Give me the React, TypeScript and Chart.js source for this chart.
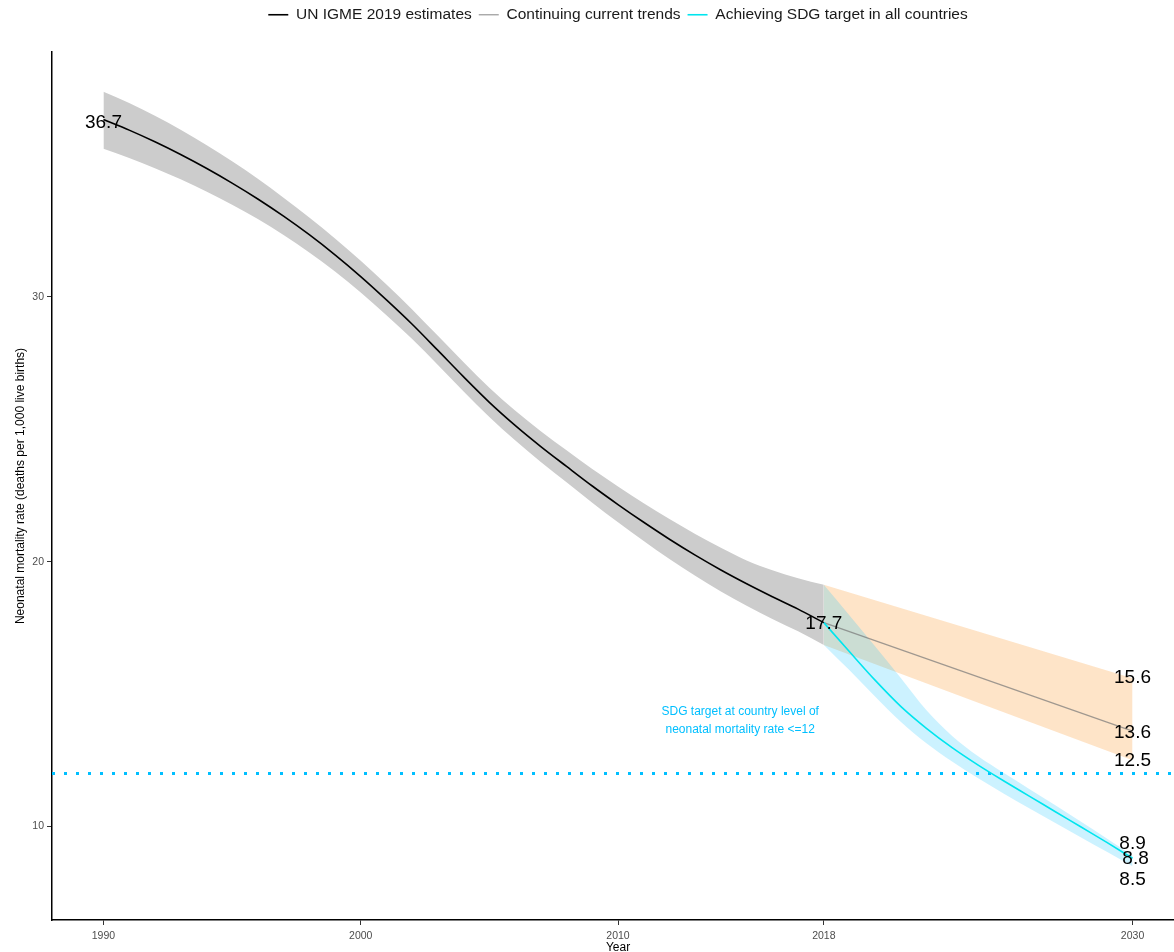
import { useEffect, useRef } from "react";
import { Chart, registerables } from "chart.js";

Chart.register(...registerables);

const FONT = '"Liberation Sans", Arial, Helvetica, sans-serif';

// UN IGME 2019 estimates of the neonatal mortality rate with uncertainty bounds
const ESTIMATE_YEARS = [
  1990, 1991, 1992, 1993, 1994, 1995, 1996, 1997, 1998, 1999, 2000, 2001, 2002, 2003, 2004,
  2005, 2006, 2007, 2008, 2009, 2010, 2011, 2012, 2013, 2014, 2015, 2016, 2017, 2018,
];
const ESTIMATE_RATE = [
  36.7, 36.3, 35.86, 35.38, 34.86, 34.3, 33.7, 33.05, 32.35, 31.59, 30.77, 29.89, 28.97, 27.98, 26.98,
  26.02, 25.15, 24.35, 23.6, 22.86, 22.16, 21.49, 20.85, 20.25, 19.69, 19.17, 18.68, 18.21, 17.7,
];
const ESTIMATE_UPPER = [
  37.75, 37.32, 36.84, 36.31, 35.74, 35.12, 34.46, 33.75, 33.0, 32.21, 31.37, 30.47, 29.53, 28.53, 27.53,
  26.57, 25.71, 24.93, 24.21, 23.5, 22.84, 22.21, 21.61, 21.05, 20.53, 20.05, 19.68, 19.38, 19.13,
];
const ESTIMATE_LOWER = [
  35.6, 35.25, 34.86, 34.44, 33.98, 33.48, 32.94, 32.34, 31.68, 30.96, 30.17, 29.31, 28.41, 27.43, 26.43,
  25.47, 24.59, 23.77, 23.0, 22.23, 21.49, 20.78, 20.1, 19.47, 18.88, 18.34, 17.84, 17.37, 16.86,
];

// Projection if current trends continue
const TREND_YEARS = [2018, 2030];
const TREND_RATE = [17.7, 13.6];
const TREND_UPPER = [19.13, 15.6];
const TREND_LOWER = [16.86, 12.5];

// Projection if the SDG target is achieved in all countries
const SDG_YEARS = [2018, 2019, 2020, 2021, 2022, 2023, 2024, 2025, 2026, 2027, 2028, 2029, 2030];
const SDG_RATE = [17.7, 16.6, 15.52, 14.53, 13.7, 12.97, 12.32, 11.72, 11.14, 10.56, 9.98, 9.4, 8.8];
const SDG_UPPER = [19.13, 17.97, 16.8, 15.6, 14.38, 13.41, 12.65, 12.02, 11.41, 10.8, 10.18, 9.55, 8.9];
const SDG_LOWER = [16.86, 15.9, 14.9, 13.95, 13.14, 12.45, 11.82, 11.24, 10.68, 10.13, 9.59, 9.05, 8.5];

const SDG_TARGET = 12;

const X_RANGE = [1988, 2032];
const Y_RANGE = [6.47, 39.25];
const X_TICKS = [1990, 2000, 2010, 2018, 2030];
const Y_TICKS = [10, 20, 30];

const SERIES_NAMES = [
  "UN IGME 2019 estimates",
  "Continuing current trends",
  "Achieving SDG target in all countries",
];
const X_TITLE = "Year";
const Y_TITLE = "Neonatal mortality rate (deaths per 1,000 live births)";
const TARGET_NOTE = ["SDG target at country level of", "neonatal mortality rate <=12"];
const TARGET_NOTE_AT = { year: 2014.75, rate: 14.0 };

const last = (a: number[]) => a[a.length - 1];
const toPoints = (xs: number[], ys: number[]) => xs.map((x, i) => ({ x, y: ys[i] }));

// Numeric labels at the start and end of each series (pixel nudges keep them apart)
const VALUE_LABELS = [
  { x: ESTIMATE_YEARS[0], y: ESTIMATE_RATE[0], dx: 0, dy: 3 },
  { x: last(ESTIMATE_YEARS), y: last(ESTIMATE_RATE), dx: 0, dy: 1 },
  { x: last(TREND_YEARS), y: last(TREND_UPPER), dx: 0, dy: 0 },
  { x: last(TREND_YEARS), y: last(TREND_RATE), dx: 0, dy: 2 },
  { x: last(TREND_YEARS), y: last(TREND_LOWER), dx: 0, dy: 0 },
  { x: last(SDG_YEARS), y: last(SDG_UPPER), dx: 0, dy: -12 },
  { x: last(SDG_YEARS), y: last(SDG_RATE), dx: 3, dy: 0 },
  { x: last(SDG_YEARS), y: last(SDG_LOWER), dx: 0, dy: 14 },
];

const COLORS = {
  estimate: "#000000",
  trend: "rgba(120,120,120,0.7)",
  sdg: "#00e5ee",
  target: "#00bfff",
  estimateBand: "#cccccc",
  trendBand: "rgba(253,185,110,0.38)",
  sdgBand: "rgba(0,191,255,0.2)",
};

const seriesLine = (label: string, xs: number[], ys: number[], color: string, width: number, order: number) => ({
  label,
  data: toPoints(xs, ys),
  borderColor: color,
  backgroundColor: color,
  borderWidth: width,
  pointBorderWidth: width,
  pointRadius: 0,
  pointStyle: "line",
  fill: false,
  cubicInterpolationMode: "monotone",
  order,
});

const bandEdge = (xs: number[], ys: number[], color: string, fillNext: boolean, order: number) => ({
  label: "",
  data: toPoints(xs, ys),
  borderColor: "transparent",
  backgroundColor: color,
  borderWidth: 0,
  pointRadius: 0,
  fill: fillNext ? "+1" : false,
  cubicInterpolationMode: "monotone",
  order,
});

// Reserve the strip above the plot for the legend row
const legendSpace = {
  id: "legendSpace",
  afterInit(chart: any) {
    const legend = chart.legend;
    if (!legend || legend.__spaced) return;
    const fit = legend.fit.bind(legend);
    legend.fit = () => {
      fit();
      legend.height = 52;
    };
    legend.__spaced = true;
  },
};

const valueLabels = {
  id: "valueLabels",
  afterDatasetsDraw(chart: any) {
    const { ctx, scales } = chart;
    ctx.save();
    ctx.font = `19px ${FONT}`;
    ctx.fillStyle = "#000";
    ctx.textAlign = "center";
    ctx.textBaseline = "middle";
    VALUE_LABELS.forEach((l) => {
      ctx.fillText(
        l.y.toFixed(1),
        scales.x.getPixelForValue(l.x) + l.dx,
        scales.y.getPixelForValue(l.y) + l.dy
      );
    });
    ctx.restore();
  },
};

const targetNote = {
  id: "targetNote",
  afterDatasetsDraw(chart: any) {
    const { ctx, scales } = chart;
    const cx = scales.x.getPixelForValue(TARGET_NOTE_AT.year);
    const cy = scales.y.getPixelForValue(TARGET_NOTE_AT.rate);
    ctx.save();
    ctx.font = `12px ${FONT}`;
    ctx.fillStyle = COLORS.target;
    ctx.textAlign = "center";
    ctx.textBaseline = "middle";
    ctx.fillText(TARGET_NOTE[0], cx, cy - 9);
    ctx.fillText(TARGET_NOTE[1], cx, cy + 9);
    ctx.restore();
  },
};

export default function App() {
  const canvasRef = useRef<HTMLCanvasElement>(null);

  useEffect(() => {
    const canvas = canvasRef.current;
    if (!canvas) return;

    const datasets: any[] = [
      seriesLine(SERIES_NAMES[0], ESTIMATE_YEARS, ESTIMATE_RATE, COLORS.estimate, 1.6, 1),
      seriesLine(SERIES_NAMES[1], TREND_YEARS, TREND_RATE, COLORS.trend, 1.3, 2),
      seriesLine(SERIES_NAMES[2], SDG_YEARS, SDG_RATE, COLORS.sdg, 1.6, 1),
      {
        label: "",
        data: toPoints(X_RANGE, [SDG_TARGET, SDG_TARGET]),
        borderColor: COLORS.target,
        borderWidth: 3,
        borderDash: [3, 9],
        borderCapStyle: "butt",
        pointRadius: 0,
        fill: false,
        order: 3,
      },
      bandEdge(SDG_YEARS, SDG_UPPER, COLORS.sdgBand, true, 10),
      bandEdge(SDG_YEARS, SDG_LOWER, COLORS.sdgBand, false, 10),
      bandEdge(TREND_YEARS, TREND_UPPER, COLORS.trendBand, true, 11),
      bandEdge(TREND_YEARS, TREND_LOWER, COLORS.trendBand, false, 11),
      bandEdge(ESTIMATE_YEARS, ESTIMATE_UPPER, COLORS.estimateBand, true, 12),
      bandEdge(ESTIMATE_YEARS, ESTIMATE_LOWER, COLORS.estimateBand, false, 12),
    ];

    const tickFont = { size: 10.5, family: FONT };
    const titleFont = { size: 12, family: FONT };

    const chart = new Chart(canvas, {
      type: "line",
      data: { datasets },
      options: {
        animation: false,
        responsive: false,
        devicePixelRatio: 1,
        events: [],
        layout: { padding: 0 },
        plugins: {
          legend: {
            display: true,
            position: "top",
            fullSize: false,
            labels: {
              usePointStyle: true,
              pointStyleWidth: 20,
              padding: 7,
              color: "#1a1a1a",
              font: { size: 15.5, family: FONT },
              filter: (item: any) => item.datasetIndex < 3,
              sort: (a: any, b: any) => a.datasetIndex - b.datasetIndex,
            },
          },
          tooltip: { enabled: false },
        },
        scales: {
          x: {
            type: "linear",
            min: X_RANGE[0],
            max: X_RANGE[1],
            afterFit: (s: any) => {
              s.height = 32;
            },
            afterBuildTicks: (s: any) => {
              s.ticks = X_TICKS.map((value) => ({ value }));
            },
            grid: { drawOnChartArea: false, drawTicks: true, tickLength: 5, color: "#333", lineWidth: 1 },
            border: { display: true, color: "#000", width: 1.5 },
            ticks: {
              color: "#4d4d4d",
              padding: 5,
              font: tickFont,
              maxRotation: 0,
              autoSkip: false,
              callback: (v: any) => String(v),
            },
            title: {
              display: true,
              text: X_TITLE,
              color: "#000",
              font: titleFont,
              padding: { top: 0, bottom: -3 },
            },
          },
          y: {
            type: "linear",
            min: Y_RANGE[0],
            max: Y_RANGE[1],
            afterFit: (s: any) => {
              s.width = 52;
            },
            afterBuildTicks: (s: any) => {
              s.ticks = Y_TICKS.map((value) => ({ value }));
            },
            grid: { drawOnChartArea: false, drawTicks: true, tickLength: 5, color: "#333", lineWidth: 1 },
            border: { display: true, color: "#000", width: 1.5 },
            ticks: {
              color: "#4d4d4d",
              padding: 3,
              font: tickFont,
              callback: (v: any) => String(v),
            },
            title: {
              display: true,
              text: Y_TITLE,
              color: "#000",
              font: titleFont,
              padding: { top: 13, bottom: 0 },
            },
          },
        },
      } as any,
      plugins: [legendSpace, valueLabels, targetNote],
    });

    return () => chart.destroy();
  }, []);

  return (
    <div
      style={{
        position: "fixed",
        left: 0,
        top: 0,
        width: 1174,
        height: 952,
        overflow: "hidden",
        background: "#ffffff",
      }}
    >
      <canvas ref={canvasRef} width={1184} height={952} style={{ display: "block" }} />
    </div>
  );
}
